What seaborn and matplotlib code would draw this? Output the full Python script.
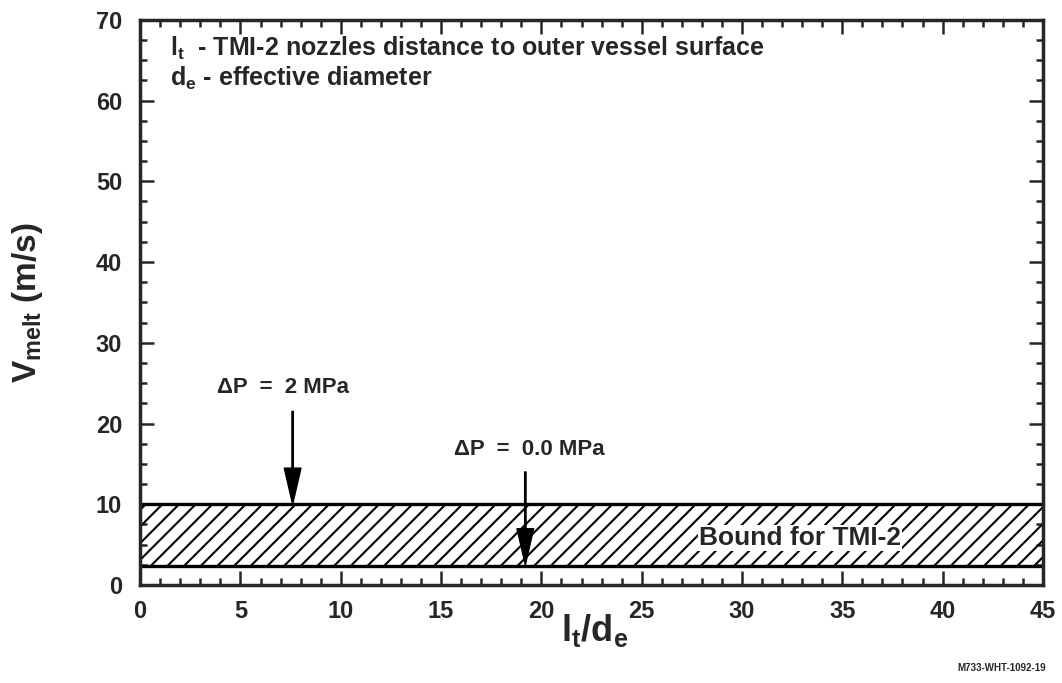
import matplotlib
matplotlib.use("Agg")
import numpy as np
import pandas as pd
import seaborn as sns
import matplotlib.pyplot as plt
from matplotlib.ticker import MultipleLocator

# === Data ===
ratio = [0, 45]                 # l_t / d_e extent of the bound
v_upper = [10.0, 10.0]          # upper bound of melt velocity (m/s)
v_lower = [2.4, 2.4]            # lower bound of melt velocity (m/s)
arrow_x = [7.6, 19.2]           # where the pressure arrows point
arrow_tip = [10.0, 2.5]         # arrow tips (on the bound edges)
arrow_tail = [21.5, 14.0]
arrow_labels = ["\u0394P  =  2 MPa", "\u0394P  =  0.0 MPa"]
label_xy = [(7.1, 24.4), (19.4, 16.8)]

df = pd.DataFrame({"ratio": ratio, "upper": v_upper, "lower": v_lower})

# === Style ===
sns.set_theme(style="ticks")
plt.rcParams["font.family"] = ["Liberation Sans", "DejaVu Sans"]
plt.rcParams["font.weight"] = "bold"
plt.rcParams["mathtext.fontset"] = "custom"
plt.rcParams["mathtext.rm"] = "Liberation Sans:bold"
plt.rcParams["mathtext.it"] = "Liberation Sans:bold"
plt.rcParams["mathtext.bf"] = "Liberation Sans:bold"
plt.rcParams["hatch.linewidth"] = 1.5

fig = plt.figure(figsize=(10.62, 6.83), dpi=100)
ax = fig.add_axes([0.132, 0.1435, 0.85, 0.8275])

# band edges + hatched fill
sns.lineplot(data=df, x="ratio", y="upper", color="black", lw=2.4, ax=ax)
sns.lineplot(data=df, x="ratio", y="lower", color="black", lw=2.4, ax=ax)
ax.fill_between(df["ratio"], df["lower"], df["upper"], facecolor="none",
                edgecolor="black", hatch="//", linewidth=0)

# arrows
for x, tip, tail in zip(arrow_x, arrow_tip, arrow_tail):
    ax.annotate("", xy=(x, tip), xytext=(x, tail),
                arrowprops=dict(facecolor="black", edgecolor="black",
                                width=1.0, headwidth=12, headlength=26))
for txt, (x, y) in zip(arrow_labels, label_xy):
    ax.text(x, y, txt, ha="center", va="center", fontsize=16, fontweight="bold")

ax.text(32.9, 5.8, "Bound for TMI-2", ha="center", va="center", fontsize=19,
        fontweight="bold",
        bbox=dict(facecolor="white", edgecolor="none", pad=1.0))

ax.text(1.5, 66.4, "l$_t$  - TMI-2 nozzles distance to outer vessel surface",
        fontsize=18, fontweight="bold", va="center")
ax.text(1.5, 62.8, "d$_e$ - effective diameter",
        fontsize=18, fontweight="bold", va="center")

# axes
ax.set_xlim(0, 45)
ax.set_ylim(0, 70)
ax.xaxis.set_major_locator(MultipleLocator(5))
ax.xaxis.set_minor_locator(MultipleLocator(1))
ax.yaxis.set_major_locator(MultipleLocator(10))
ax.yaxis.set_minor_locator(MultipleLocator(2.5))
ax.tick_params(which="both", direction="in", top=True, right=True,
               width=1.8, labelsize=17)
ax.tick_params(axis="x", pad=11)
ax.tick_params(axis="y", pad=13)
ax.tick_params(which="major", length=10)
ax.tick_params(which="minor", length=5)
for lab in ax.get_xticklabels() + ax.get_yticklabels():
    lab.set_fontweight("bold")
for sp in ax.spines.values():
    sp.set_linewidth(2.5)
    sp.set_visible(True)

ax.set_xlabel("l$_t$/d$_e$", fontsize=26, fontweight="bold")
ax.set_ylabel("V$_{melt}$ (m/s)", fontsize=24, fontweight="bold")
ax.xaxis.set_label_coords(0.504, -0.048)
ax.yaxis.set_label_coords(-0.105, 0.5)

fig.text(0.985, 0.022, "M733-WHT-1092-19", ha="right", va="center",
         fontsize=7, fontweight="bold")

fig.savefig("out.png", dpi=100)
